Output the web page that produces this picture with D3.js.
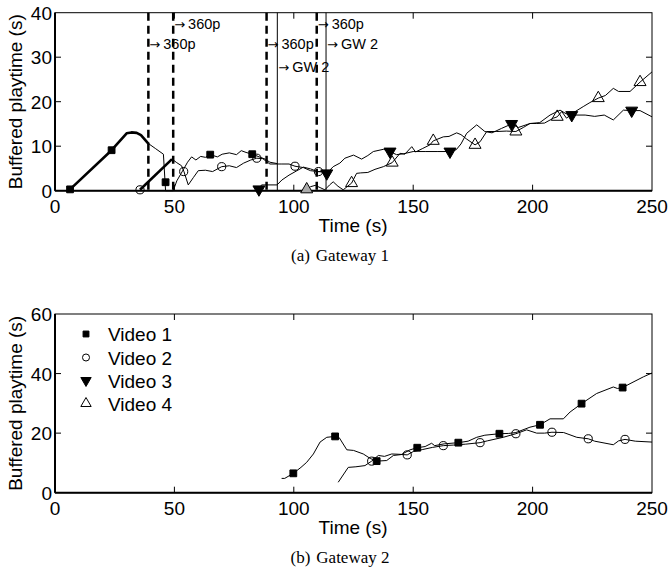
<!DOCTYPE html>
<html>
<head>
<meta charset="utf-8">
<script src="https://cdn.jsdelivr.net/npm/d3@7"></script>
<style>
  body { margin: 0; background: #fff; }
  svg text { font-family: "Liberation Sans", Arial, sans-serif; fill: #000; }
  .caption { font-family: "Liberation Serif", "Times New Roman", serif; }
</style>
</head>
<body>
<div id="chart"></div>
<script>
// ticks
const xTicks = [0, 50, 100, 150, 200, 250];
const yTicksGW1 = [0, 10, 20, 30, 40];
const yTicksGW2 = [0, 20, 40, 60];
const videoNames = ["Video 1", "Video 2", "Video 3", "Video 4"];

// Gateway 1 series [time, buffered]
const gw1Video1Thick = [[6.3, 0.3], [23.7, 9.1], [30, 12.9], [32, 13.1], [34.2, 13], [36, 12.5], [39.1, 10.6]];
const gw1Video1 = [[39.1, 10.6], [42, 9.5], [45.4, 8.2], [46.3, 0], [49.5, 0], [51, 2.2], [53.7, 4.7], [55.5, 6.4],
  [57.2, 7.6], [59, 6.9], [61, 7.7], [63, 7.5], [65, 8.1], [68, 7.6], [70, 8.2], [73, 8.5], [76, 8.1], [78, 9],
  [80, 8.6], [82.6, 8.2], [86, 7.5], [88, 7.1], [90, 6.4], [93, 6.1]];
const gw1Video2Thick = [[35.6, 0.2], [49, 7.1]];
const gw1Video2 = [[49, 7.1], [51, 6.3], [53, 5.6], [54, 4.3], [55.8, 1.3], [58, 3], [60, 4.5], [63, 4.6], [66, 4.3],
  [69.8, 5.4], [73, 5.6], [76, 5.2], [79, 6.2], [82, 6.9], [84.5, 7.3], [87, 7.2], [90, 6], [95, 6], [98, 6],
  [100.5, 5.5], [104, 5.2], [107, 4.5], [110.3, 4.3], [112.5, 4.4]];
const gw1Video3 = [[85.4, 0.3], [86.5, 1.3], [93, 1.3], [95, 2.4], [98, 3.5], [101, 4.4], [104, 5.3], [107, 4.9],
  [110, 4.3], [112, 4.2], [113.8, 3.9], [116.5, 5.4], [119.3, 6.2], [121.4, 7.3], [125, 8], [128.4, 7.1], [131, 7.9],
  [133.3, 8.8], [137.5, 9.3], [140.3, 8.8], [143, 8.1], [146, 8.3], [150, 8.8], [155, 8.8], [160, 8.8], [165.4, 8.8],
  [168, 9.2], [170, 10.5], [172.4, 12.9], [176.6, 14.8], [180, 13.3], [183, 13], [187, 14], [191.2, 15], [194, 14.2],
  [198.9, 15.1], [203, 15.3], [207.3, 17], [211.5, 18.1], [214, 17.3], [216.4, 17], [222, 17], [226, 16.7], [230, 17],
  [233.8, 15.9], [238, 18.1], [241.5, 18], [245, 18], [250, 16.6]];
const gw1Video4 = [[105.4, 0.3], [107, 0.9], [109, 1.2], [111, 0.7], [113, 0.2], [115, 1.3], [116.5, 2], [118.5, 1],
  [120.7, 0.2], [124.2, 1.7], [126.3, 3.9], [128, 4], [131, 4.1], [134, 4.8], [137.5, 5.4], [141.2, 6.3], [144.5, 8.4],
  [146.5, 8.2], [149.4, 9.9], [151, 8.7], [154, 9.5], [157, 10.3], [158.4, 11.2], [162.6, 12.1], [165, 12.2],
  [168.2, 13], [170, 12.6], [172.4, 11.6], [175.9, 10.3], [178, 11], [180.8, 13.3], [185, 13.3], [189, 13.4],
  [193, 13.3], [196.1, 14.2], [198.9, 15.1], [201.7, 15.1], [205, 15.2], [208.7, 16.3], [210.3, 16.6], [212.2, 17.8],
  [214.2, 16.3], [217, 17.5], [221.2, 18.9], [224, 19.8], [227.5, 20.8], [230.5, 21.4], [233.8, 23], [236, 22.3],
  [240.8, 22.3], [245, 24.4], [250, 26.7]];

const gw1Marks1 = [[6.3, 0.3], [23.7, 9.1], [46.3, 1.9], [65, 8.1], [82.6, 8.2]];
const gw1Marks2 = [[35.6, 0.2], [53.9, 4.3], [69.8, 5.4], [84.5, 7.3], [100.5, 5.5], [110.3, 4.3]];
const gw1Marks3 = [[85.4, 0.3], [113.8, 3.9], [140.3, 8.8], [165.4, 8.8], [191.2, 15], [216.4, 17], [241.5, 18]];
const gw1Marks4 = [[124.2, 1.7], [141.2, 6.3], [158.4, 11.2], [175.9, 10.3], [193, 13.3], [210.3, 16.6], [227.5, 20.8], [245, 24.4]];
const gw1Marks4Gray = [[105.4, 0.3]];

// switch events on gateway 1
const qualitySwitches = [39.1, 49.5, 88.6, 109.6];
const gatewaySwitches = [93.1, 113.5];
const switchNotes = [
  { t: 39.1, text: "360p", row: 1 },
  { t: 49.5, text: "360p", row: 0 },
  { t: 88.6, text: "360p", row: 1 },
  { t: 93.1, text: "GW 2", row: 2 },
  { t: 109.6, text: "360p", row: 0 },
  { t: 113.5, text: "GW 2", row: 1 }
];

// Gateway 2 series
const gw2Video1 = [[94.9, 4.8], [96.2, 4.8], [99.8, 6.5], [103, 8.5], [105.4, 10.2], [108.2, 13], [111, 17],
  [113.8, 18.6], [117.3, 18.9], [119, 18.5], [122.2, 14.4], [125, 14.2], [129.1, 13], [132, 11.5], [134.7, 10.6],
  [138.9, 10.8], [141.7, 12.5], [145, 12.8], [148.7, 14.4], [151.7, 15.1], [155, 15.5], [157.7, 16.6], [159, 15.8],
  [163, 16.4], [168.9, 16.8], [173, 17.3], [176.6, 18.6], [180, 19.3], [186.1, 19.8], [190, 19.9], [193, 20.2],
  [198.9, 22], [203.1, 22.8], [207.3, 24.8], [212.9, 24.8], [215.7, 27.1], [220.5, 29.9], [226.8, 33.3],
  [233.8, 35.5], [235.5, 35], [237.7, 35.3], [240.8, 36.6], [246.4, 38.9], [250, 40.2]];
const gw2Video2 = [[118.6, 3.5], [122.8, 8.5], [126, 8.7], [129.8, 9.1], [132.6, 10.6], [135.4, 12.5], [138, 12.2],
  [141, 13], [144, 12.9], [147.5, 12.7], [150, 13.8], [154, 14.5], [158, 15.2], [162.6, 15.8], [167, 16], [172, 16.3],
  [178, 16.8], [181, 17.4], [187.7, 18.6], [193, 19.8], [197.5, 21.1], [201.7, 20], [205, 20], [208.1, 20.3],
  [213, 20.2], [218.5, 18.6], [223.3, 18.1], [226, 17.3], [233.8, 16.1], [236, 17.4], [238.7, 17.9], [243, 17.3],
  [250, 17]];
const gw2Marks1 = [[99.8, 6.5], [117.3, 18.9], [134.7, 10.6], [151.7, 15.1], [168.9, 16.8], [186.1, 19.8], [203.1, 22.8], [220.5, 29.9], [237.7, 35.3]];
const gw2Marks2 = [[132.6, 10.6], [147.5, 12.7], [162.6, 15.8], [178, 16.8], [193, 19.8], [208.1, 20.3], [223.3, 18.1], [238.7, 17.9]];

const width = 670, height = 571;
const left = 55, right = 652;

const svg = d3.select("#chart").append("svg")
  .attr("width", width)
  .attr("height", height);

const x = d3.scaleLinear().domain([0, 250]).range([left, right]);

const markerStyle = [
  { type: d3.symbolSquare, size: 46, fill: "#000", stroke: "#000", rot: 0 },
  { type: d3.symbolCircle, size: 52, fill: "none", stroke: "#000", rot: 0 },
  { type: d3.symbolTriangle, size: 62, fill: "#000", stroke: "#000", rot: 180 },
  { type: d3.symbolTriangle, size: 62, fill: "none", stroke: "#000", rot: 0 }
];

function panel(top, bottom, yMax, yTicks, caption) {
  const y = d3.scaleLinear().domain([0, yMax]).range([bottom, top]);
  const g = svg.append("g");

  // box
  g.append("rect")
    .attr("x", left).attr("y", top)
    .attr("width", right - left).attr("height", bottom - top)
    .attr("fill", "none").attr("stroke", "#000").attr("stroke-width", 1);

  // inward ticks on all four sides
  const tl = 6;
  xTicks.slice(1, -1).forEach(t => {
    g.append("line").attr("x1", x(t)).attr("x2", x(t)).attr("y1", bottom).attr("y2", bottom - tl)
      .attr("stroke", "#000");
    g.append("line").attr("x1", x(t)).attr("x2", x(t)).attr("y1", top).attr("y2", top + tl)
      .attr("stroke", "#000");
  });
  yTicks.slice(1, -1).forEach(t => {
    g.append("line").attr("x1", left).attr("x2", left + tl).attr("y1", y(t)).attr("y2", y(t))
      .attr("stroke", "#000");
    g.append("line").attr("x1", right).attr("x2", right - tl).attr("y1", y(t)).attr("y2", y(t))
      .attr("stroke", "#000");
  });

  // heavier left and bottom edges
  g.append("line").attr("x1", left).attr("x2", right).attr("y1", bottom).attr("y2", bottom)
    .attr("stroke", "#000").attr("stroke-width", 2);
  g.append("line").attr("x1", left).attr("x2", left).attr("y1", top).attr("y2", bottom)
    .attr("stroke", "#000").attr("stroke-width", 2);

  // tick labels
  g.selectAll(".xl").data(xTicks).enter().append("text")
    .attr("x", d => x(d)).attr("y", bottom + 22.5)
    .attr("text-anchor", "middle").style("font-size", "19px")
    .text(d => d);
  g.selectAll(".yl").data(yTicks).enter().append("text")
    .attr("x", left - 3).attr("y", d => y(d) + 7)
    .attr("text-anchor", "end").style("font-size", "19px")
    .text(d => d);

  g.append("text")
    .attr("x", 353).attr("y", bottom + 41.5)
    .attr("text-anchor", "middle").style("font-size", "19px")
    .text("Time (s)");

  g.append("text")
    .attr("transform", "rotate(-90)")
    .attr("x", -(top + bottom) / 2).attr("y", 22)
    .attr("text-anchor", "middle").style("font-size", "19px")
    .text("Buffered playtime (s)");

  const cap = g.append("text")
    .attr("class", "caption")
    .attr("x", 340).attr("y", bottom + 70)
    .attr("text-anchor", "middle").style("font-size", "17px");
  cap.append("tspan").text(caption[0]);
  cap.append("tspan").attr("dx", 6).text(caption[1]);

  return { g, y };
}

function drawLine(p, data, w) {
  const line = d3.line().x(d => x(d[0])).y(d => p.y(d[1]));
  p.g.append("path").datum(data)
    .attr("d", line)
    .attr("fill", "none").attr("stroke", "#000")
    .attr("stroke-width", w).attr("stroke-linejoin", "round");
}

function drawMarks(p, data, k, fill) {
  const m = markerStyle[k];
  p.g.selectAll(null).data(data).enter().append("path")
    .attr("d", d3.symbol().type(m.type).size(m.size))
    .attr("transform", d => `translate(${x(d[0])},${p.y(d[1])}) rotate(${m.rot})`)
    .attr("fill", fill || m.fill).attr("stroke", m.stroke).attr("stroke-width", 1);
}

// (a) Gateway 1
const p1 = panel(12.7, 190.7, 40, yTicksGW1, ["(a)", "Gateway 1"]);

qualitySwitches.forEach(t => {
  p1.g.append("line").attr("x1", x(t)).attr("x2", x(t)).attr("y1", 12.7).attr("y2", 190.7)
    .attr("stroke", "#000").attr("stroke-width", 2.5).attr("stroke-dasharray", "8,5");
});
gatewaySwitches.forEach(t => {
  p1.g.append("line").attr("x1", x(t)).attr("x2", x(t)).attr("y1", 12.7).attr("y2", 190.7)
    .attr("stroke", "#000").attr("stroke-width", 1);
});
const noteRows = [24, 44, 67];
const notes = p1.g.selectAll(".note").data(switchNotes).enter().append("text")
  .attr("x", d => x(d.t) + 1).attr("y", d => noteRows[d.row] + 5)
  .style("font-size", "14.5px");
notes.append("tspan")
  .style("font-family", "'DejaVu Sans', sans-serif").style("font-size", "13px")
  .text("→");
notes.append("tspan").attr("dx", 3).text(d => d.text);

drawLine(p1, gw1Video1Thick, 2.6);
drawLine(p1, gw1Video1, 1);
drawLine(p1, gw1Video2Thick, 2.6);
drawLine(p1, gw1Video2, 1);
drawLine(p1, gw1Video3, 1);
drawLine(p1, gw1Video4, 1);
drawMarks(p1, gw1Marks1, 0);
drawMarks(p1, gw1Marks2, 1);
drawMarks(p1, gw1Marks3, 2);
drawMarks(p1, gw1Marks4, 3);
drawMarks(p1, gw1Marks4Gray, 3, "#aaa");

// (b) Gateway 2
const p2 = panel(314, 492.7, 60, yTicksGW2, ["(b)", "Gateway 2"]);
drawLine(p2, gw2Video1, 1);
drawLine(p2, gw2Video2, 1);
drawMarks(p2, gw2Marks1, 0);
drawMarks(p2, gw2Marks2, 1);

// legend
const legY = [334, 357.5, 380.5, 403.5];
videoNames.forEach((name, i) => {
  const m = markerStyle[i];
  p2.g.append("path")
    .attr("d", d3.symbol().type(m.type).size(m.size * 0.75))
    .attr("transform", `translate(86,${legY[i]}) rotate(${m.rot})`)
    .attr("fill", m.fill).attr("stroke", m.stroke);
  p2.g.append("text")
    .attr("x", 108).attr("y", legY[i] + 7)
    .style("font-size", "19px")
    .text(name);
});
</script>
</body>
</html>
